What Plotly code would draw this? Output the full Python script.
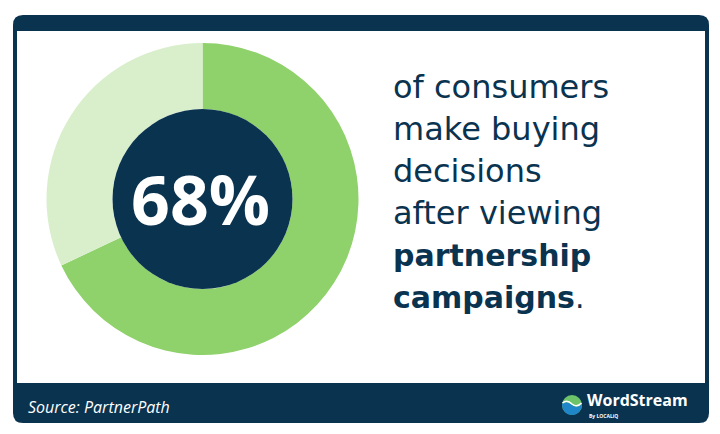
import plotly.graph_objects as go

# ---- data ----
slice_labels = ["Make buying decisions after partnership campaigns", "Other consumers"]
slice_values = [68, 32]
headline = "68%"
text_lines_regular = ["of consumers", "make buying", "decisions", "after viewing"]
text_lines_bold = ["partnership", "campaigns"]
source_text = "Source: PartnerPath"
brand_text = "WordStream"
brand_sub = "By LOCALiQ"

NAVY = "#0a3350"
GREEN = "#8fd16a"
LIGHT_GREEN = "#d9efcc"
W, H = 720, 434
OFF = 8  # page body margin
FW, FH = W - OFF, H - OFF

fig = go.Figure()

# donut
cx, cy, R = 202.5, 199, 156
fig.add_trace(go.Pie(
    labels=slice_labels, values=slice_values,
    marker=dict(colors=[GREEN, LIGHT_GREEN], line=dict(width=0)),
    hole=90 / R, sort=False, direction="clockwise", rotation=0,
    textinfo="none", hoverinfo="label+percent", showlegend=False,
    domain=dict(x=[(cx - R - OFF) / FW, (cx + R - OFF) / FW],
                y=[(H - cy - R) / FH, (H - cy + R) / FH]),
))

shapes = []
# frame
x0, x1, y0, y1, r = 13, 709, 15, 423, 10
shapes.append(dict(type="path", layer="below", xref="x", yref="y",
    path=f"M {x0+r},{y0} H {x1-r} Q {x1},{y0} {x1},{y0+r} V {y1-r} Q {x1},{y1} {x1-r},{y1} "
         f"H {x0+r} Q {x0},{y1} {x0},{y1-r} V {y0+r} Q {x0},{y0} {x0+r},{y0} Z",
    fillcolor=NAVY, line=dict(width=0)))
shapes.append(dict(type="rect", layer="below", xref="x", yref="y",
    x0=17, x1=705, y0=31, y1=383, fillcolor="white", line=dict(width=0)))
# inner dark circle
shapes.append(dict(type="circle", layer="above", xref="x", yref="y",
    x0=cx - 90, x1=cx + 90, y0=cy - 90, y1=cy + 90, fillcolor=NAVY, line=dict(width=0)))
# logo icon
lx, ly, lr = 572, 405, 10
shapes.append(dict(type="circle", layer="above", xref="x", yref="y",
    x0=lx - lr, x1=lx + lr, y0=ly - lr, y1=ly + lr, fillcolor="#6cc36a", line=dict(width=0)))
shapes.append(dict(type="path", layer="above", xref="x", yref="y",
    path=f"M {lx-lr},{ly-1} Q {lx-5},{ly-5} {lx},{ly} Q {lx+5},{ly+4} {lx+lr},{ly-1} "
         f"C {lx+lr},{ly+5.5} {lx+5.5},{ly+lr} {lx},{ly+lr} C {lx-5.5},{ly+lr} {lx-lr},{ly+5.5} {lx-lr},{ly-1} Z",
    fillcolor="#1f86c9", line=dict(width=0)))
shapes.append(dict(type="path", layer="above", xref="x", yref="y",
    path=f"M {lx-lr+0.5},{ly-2} Q {lx-5},{ly-6} {lx},{ly-1} Q {lx+5},{ly+3} {lx+lr-0.5},{ly-2}",
    line=dict(color="white", width=1.5)))

ann = []
ann.append(dict(x=cx - 2, y=cy - 1, text=f"<b>{headline}</b>", showarrow=False,
    font=dict(family="Open Sans", size=68, color="white"), xanchor="center", yanchor="middle"))

centers = [87, 129, 171, 213, 255, 297]
lines = [(t, False) for t in text_lines_regular] + [(t, True) for t in text_lines_bold]
for i, (t, bold) in enumerate(lines):
    txt = f"<b>{t}</b>" if bold else t
    if i == len(lines) - 1:
        txt = txt + "."
    ann.append(dict(x=391, y=centers[i], text=txt, showarrow=False, xanchor="left", yanchor="middle",
        font=dict(family="DejaVu Sans", size=30 if bold else 32, color=NAVY)))

ann.append(dict(x=26, y=407, text=f"<i>{source_text}</i>", showarrow=False, xanchor="left",
    yanchor="middle", font=dict(family="Open Sans", size=16, color="white")))
ann.append(dict(x=585, y=400, text=f"<b>{brand_text}</b>", showarrow=False, xanchor="left",
    yanchor="middle", font=dict(family="Open Sans", size=16, color="white")))
ann.append(dict(x=587, y=415.5, text=f"<b>{brand_sub}</b>", showarrow=False, xanchor="left",
    yanchor="middle", font=dict(family="Open Sans", size=5, color="white")))

for a in ann:
    a["xref"] = "x"
    a["yref"] = "y"

fig.update_layout(
    width=FW, height=FH, margin=dict(l=0, r=0, t=0, b=0),
    paper_bgcolor="white", plot_bgcolor="rgba(0,0,0,0)",
    xaxis=dict(range=[OFF, W], visible=False, domain=[0, 1], fixedrange=True),
    yaxis=dict(range=[H, OFF], visible=False, domain=[0, 1], fixedrange=True),
    shapes=shapes, annotations=ann, showlegend=False,
)

fig.write_html("out.html")
